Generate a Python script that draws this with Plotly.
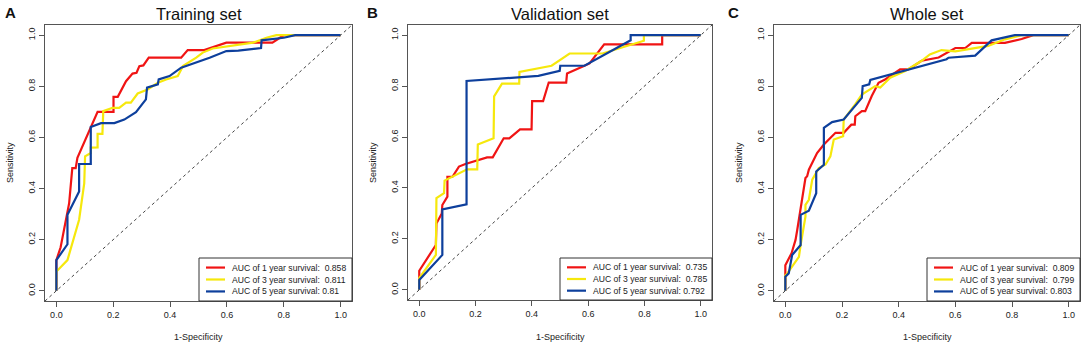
import plotly.graph_objects as go

W, H = 1084, 347

# ---------------- data ----------------
panel_letters = ["A", "B", "C"]
panel_titles = ["Training set", "Validation set", "Whole set"]
series_names = ["1 year", "3 year", "5 year"]

# Training set
A1_fpr = [0, 0, 0.015, 0.021, 0.027, 0.045, 0.056, 0.068, 0.074, 0.09, 0.115, 0.145, 0.201, 0.201, 0.216, 0.227, 0.245, 0.268, 0.282, 0.292, 0.306, 0.325, 0.439, 0.462, 0.52, 0.598, 0.76, 0.8, 1]
A1_tpr = [0, 0.12, 0.17, 0.206, 0.245, 0.343, 0.48, 0.48, 0.52, 0.56, 0.618, 0.70, 0.70, 0.759, 0.759, 0.781, 0.82, 0.85, 0.853, 0.879, 0.882, 0.912, 0.912, 0.942, 0.942, 0.971, 0.971, 1.0, 1]
A3_fpr = [0, 0, 0.039, 0.08, 0.098, 0.101, 0.121, 0.121, 0.145, 0.145, 0.162, 0.165, 0.198, 0.221, 0.245, 0.262, 0.286, 0.321, 0.357, 0.386, 0.427, 0.445, 0.492, 0.515, 0.55, 0.692, 0.739, 0.774, 1]
A3_tpr = [0, 0.075, 0.12, 0.278, 0.42, 0.526, 0.539, 0.56, 0.561, 0.614, 0.614, 0.703, 0.716, 0.716, 0.736, 0.736, 0.772, 0.788, 0.814, 0.827, 0.84, 0.879, 0.912, 0.932, 0.948, 0.971, 0.99, 1.0, 1]
A5_fpr = [0, 0, 0.039, 0.039, 0.08, 0.08, 0.121, 0.121, 0.157, 0.204, 0.239, 0.28, 0.315, 0.319, 0.357, 0.36, 0.398, 0.439, 0.539, 0.598, 0.64, 0.72, 0.722, 0.8, 0.84, 1]
A5_tpr = [0, 0.12, 0.182, 0.297, 0.389, 0.496, 0.496, 0.641, 0.656, 0.656, 0.67, 0.699, 0.749, 0.795, 0.808, 0.827, 0.84, 0.873, 0.912, 0.938, 0.94, 0.95, 0.98, 0.99, 1.0, 1]
A_auc = ["0.858", "0.811", "0.81"]

# Validation set
B1_fpr = [0, 0, 0.059, 0.061, 0.08, 0.082, 0.1, 0.1, 0.118, 0.141, 0.164, 0.241, 0.261, 0.3, 0.32, 0.358, 0.399, 0.401, 0.44, 0.46, 0.522, 0.525, 0.587, 0.605, 0.657, 0.863, 0.863, 1]
B1_tpr = [0, 0.075, 0.176, 0.26, 0.30, 0.333, 0.366, 0.444, 0.444, 0.484, 0.494, 0.52, 0.52, 0.595, 0.595, 0.63, 0.63, 0.741, 0.741, 0.814, 0.814, 0.85, 0.88, 0.889, 0.964, 0.964, 1.0, 1]
B3_fpr = [0, 0, 0.059, 0.061, 0.088, 0.09, 0.17, 0.206, 0.208, 0.264, 0.266, 0.294, 0.355, 0.356, 0.47, 0.534, 0.651, 0.798, 0.798, 1]
B3_tpr = [0, 0.046, 0.137, 0.36, 0.38, 0.429, 0.473, 0.473, 0.571, 0.595, 0.76, 0.81, 0.81, 0.856, 0.88, 0.928, 0.928, 0.978, 1.0, 1]
B5_fpr = [0, 0, 0.082, 0.082, 0.168, 0.168, 0.423, 0.499, 0.501, 0.587, 0.751, 0.751, 1]
B5_tpr = [0, 0.039, 0.137, 0.316, 0.336, 0.82, 0.84, 0.86, 0.88, 0.88, 0.98, 1.0, 1]
B_auc = ["0.735", "0.785", "0.792"]

# Whole set
C1_fpr = [0, 0, 0.022, 0.036, 0.042, 0.06, 0.071, 0.077, 0.083, 0.112, 0.136, 0.177, 0.206, 0.233, 0.245, 0.247, 0.27, 0.282, 0.305, 0.329, 0.352, 0.405, 0.434, 0.481, 0.541, 0.6, 0.635, 0.658, 0.775, 0.834, 0.875, 1]
C1_tpr = [0, 0.10, 0.147, 0.199, 0.238, 0.356, 0.441, 0.448, 0.474, 0.539, 0.572, 0.618, 0.618, 0.65, 0.65, 0.683, 0.703, 0.703, 0.762, 0.814, 0.827, 0.866, 0.866, 0.9, 0.913, 0.95, 0.95, 0.97, 0.97, 0.985, 1.0, 1]
C3_fpr = [0, 0, 0.007, 0.03, 0.048, 0.054, 0.071, 0.071, 0.083, 0.095, 0.118, 0.142, 0.159, 0.171, 0.204, 0.206, 0.235, 0.247, 0.27, 0.317, 0.335, 0.37, 0.423, 0.481, 0.51, 0.551, 0.6, 0.716, 0.775, 0.834, 1]
C3_tpr = [0, 0.06, 0.068, 0.107, 0.133, 0.179, 0.29, 0.336, 0.356, 0.435, 0.48, 0.494, 0.526, 0.592, 0.605, 0.67, 0.71, 0.73, 0.768, 0.801, 0.795, 0.834, 0.86, 0.9, 0.925, 0.942, 0.937, 0.958, 0.984, 1.0, 1]
C5_fpr = [0, 0, 0.012, 0.024, 0.054, 0.054, 0.083, 0.109, 0.109, 0.136, 0.136, 0.165, 0.206, 0.247, 0.27, 0.273, 0.296, 0.3, 0.399, 0.569, 0.576, 0.67, 0.728, 0.81, 1]
C5_tpr = [0, 0.055, 0.068, 0.14, 0.179, 0.297, 0.313, 0.382, 0.467, 0.493, 0.638, 0.66, 0.67, 0.722, 0.755, 0.801, 0.808, 0.825, 0.854, 0.906, 0.912, 0.92, 0.98, 1.0, 1]
C_auc = ["0.809", "0.799", "0.803"]

tick_vals = [0, 0.2, 0.4, 0.6, 0.8, 1.0]
axis_range = [-0.04, 1.04]

# ---------------- styling ----------------
colors = ["#f01414", "#f6e80c", "#0d3f9c"]
FONT = "Liberation Sans, Arial, sans-serif"

panels = [
    dict(curves=[(A1_fpr, A1_tpr), (A3_fpr, A3_tpr), (A5_fpr, A5_tpr)], auc=A_auc,
         box=(45, 352, 25, 301), letter_x=3, leg_left=199),
    dict(curves=[(B1_fpr, B1_tpr), (B3_fpr, B3_tpr), (B5_fpr, B5_tpr)], auc=B_auc,
         box=(408, 712, 25, 300), letter_x=365, leg_left=560),
    dict(curves=[(C1_fpr, C1_tpr), (C3_fpr, C3_tpr), (C5_fpr, C5_tpr)], auc=C_auc,
         box=(774, 1080, 25, 301), letter_x=726, leg_left=927),
]

fig = go.Figure()
layout = dict(
    width=W, height=H, margin=dict(l=0, r=0, t=0, b=0),
    paper_bgcolor="white", plot_bgcolor="white",
    font=dict(family=FONT, color="#222"),
    showlegend=False,
)
annotations = []
shapes = []


def px(x):
    return x / W


def py(y):
    return 1 - y / H


for i, p in enumerate(panels):
    n = "" if i == 0 else str(i + 1)
    xa, ya = "x" + n, "y" + n
    x0, x1, y0, y1 = p["box"]
    dx = [px(x0), px(x1)]
    dy = [py(y1), py(y0)]

    # diagonal reference line
    fig.add_trace(go.Scatter(x=axis_range, y=axis_range, mode="lines",
                             line=dict(color="#444", width=1, dash="dot"),
                             xaxis=xa, yaxis=ya, showlegend=False, hoverinfo="skip"))
    for k, (fx, ty) in enumerate(p["curves"]):
        fig.add_trace(go.Scatter(x=fx, y=ty, mode="lines", name=series_names[k],
                                 line=dict(color=colors[k], width=2.2),
                                 xaxis=xa, yaxis=ya, showlegend=False))

    axis_common = dict(range=axis_range, tickvals=tick_vals, tickformat=".1f",
                       showgrid=False, zeroline=False, showline=True, mirror=True,
                       linecolor="#555", linewidth=1, ticks="outside", ticklen=5,
                       tickcolor="#555", tickfont=dict(size=9, family=FONT, color="#222"))
    layout["xaxis" + n] = dict(axis_common, domain=dx, anchor=ya)
    layout["yaxis" + n] = dict(axis_common, domain=dy, anchor=xa, tickangle=-90)

    # legend (bottom-right, R style)
    lx0, lx1, ly0, ly1 = p["leg_left"], x1, 258, y1
    shapes.append(dict(type="rect", xref="paper", yref="paper",
                       x0=px(lx0), x1=px(lx1), y0=py(ly1), y1=py(ly0),
                       line=dict(color="#333", width=1), fillcolor="white", layer="above"))
    row_h = (ly1 - ly0) / 3.6
    for k in range(3):
        ry = ly0 + row_h * (0.8 + k)
        shapes.append(dict(type="line", xref="paper", yref="paper",
                           x0=px(lx0 + 7), x1=px(lx0 + 26), y0=py(ry), y1=py(ry),
                           line=dict(color=colors[k], width=2.2), layer="above"))
        auc = p["auc"][k]
        sep = "\u00a0" if len(auc) < 5 or (i > 0 and k == 2) else "\u00a0\u00a0"
        annotations.append(dict(text="AUC of %s survival:%s%s" % (series_names[k], sep, auc),
                                x=px(lx0 + 31), y=py(ry), xref="paper", yref="paper",
                                showarrow=False, xanchor="left", yanchor="middle",
                                font=dict(size=8.6, family=FONT, color="#222")))

    cx = px((x0 + x1) / 2)
    annotations.append(dict(text=panel_titles[i], x=cx, y=py(14), xref="paper", yref="paper",
                            showarrow=False, font=dict(size=16.5, family=FONT, color="#111"),
                            xanchor="center", yanchor="middle"))
    annotations.append(dict(text="<b>%s</b>" % panel_letters[i], x=px(p["letter_x"]), y=py(13),
                            xref="paper", yref="paper", showarrow=False,
                            font=dict(size=15, family=FONT, color="#111"),
                            xanchor="left", yanchor="middle"))
    annotations.append(dict(text="1-Specificity", x=cx, y=py(337), xref="paper", yref="paper",
                            showarrow=False, font=dict(size=9, family=FONT, color="#222"),
                            xanchor="center", yanchor="middle"))
    annotations.append(dict(text="Sensitivity", x=px(x0 - 35), y=py(163), xref="paper", yref="paper",
                            showarrow=False, textangle=-90, font=dict(size=9, family=FONT, color="#222"),
                            xanchor="center", yanchor="middle"))

layout["annotations"] = annotations
layout["shapes"] = shapes
fig.update_layout(**layout)
fig.write_html("out.html", config={"displayModeBar": False},
               post_script="document.body.style.margin='0px';document.body.style.overflow='hidden';")
